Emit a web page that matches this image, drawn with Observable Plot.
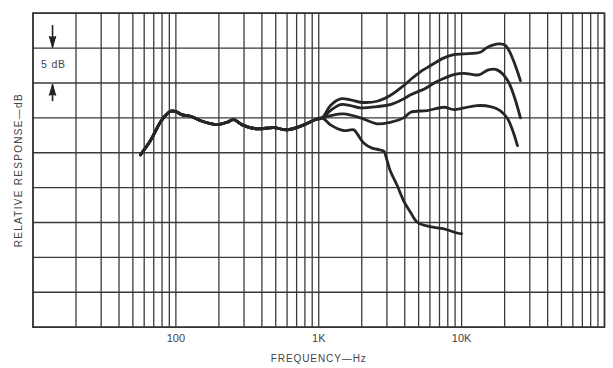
<!DOCTYPE html>
<html>
<head>
<meta charset="utf-8">
<script src="https://cdn.jsdelivr.net/npm/d3@7"></script>
<script src="https://cdn.jsdelivr.net/npm/@observablehq/plot@0.6"></script>
<style>
  html, body { margin: 0; padding: 0; background: #fff; }
  #chart svg { display: block; }
</style>
</head>
<body>
<div id="chart"></div>
<script>
// ---- data (frequency in Hz, response in dB) ----
const commonFreq = [56.5, 66.4, 78, 84.6, 91.6, 100, 111, 126.5, 148.6, 194, 228, 254, 291, 370, 484, 600, 786, 950, 1057];
const commonDb   = [-5.3, -3.25, -0.6, 0.33, 0.95, 0.9, 0.43, 0.23, -0.39, -0.96, -0.63, -0.24, -1.0, -1.58, -1.39, -1.72, -1.0, -0.24, 0];

const aFreq = [1208, 1419, 1667, 1960, 2560, 3160, 3920, 4400, 5140, 5740, 7530, 8810, 10400, 13500, 15100, 18200, 20300, 25800];
const aDb   = [1.76, 2.72, 2.58, 2.24, 2.38, 3.2, 4.6, 5.5, 6.6, 7.2, 8.6, 9.07, 9.17, 9.4, 10.1, 10.6, 10.36, 5.34];

const bFreq = [1208, 1419, 1667, 1960, 2560, 3160, 3920, 4400, 5140, 5440, 6780, 8810, 10400, 13200, 15400, 17700, 21000, 25800];
const bDb   = [1.05, 1.9, 1.76, 1.43, 1.62, 1.9, 2.72, 3.3, 3.91, 4.1, 5.24, 6.2, 6.39, 6.16, 6.88, 6.88, 5.34, 0];

const cFreq = [1208, 1497, 1960, 2560, 3160, 3920, 4400, 5740, 7530, 8810, 10400, 12800, 15900, 18600, 21000, 24600];
const cDb   = [0.33, 0.57, 0, -0.86, -0.63, 0, 0.8, 1.05, 1.52, 1.19, 1.43, 1.76, 1.62, 1.05, -0.14, -3.97];

const dFreq = [1208, 1497, 1760, 1860, 2065, 2340, 2700, 2860, 2960, 3160, 3540, 3920, 4380, 4900, 6000, 7530, 9300, 10000];
const dDb   = [-1.0, -1.82, -1.72, -2.3, -3.6, -4.3, -4.6, -4.8, -5.6, -7.55, -9.7, -11.85, -13.5, -14.96, -15.6, -15.9, -16.5, -16.6];

const tickValues = [100, 1000, 10000];
const tickLabels = ["100", "1K", "10K"];
const dbLines = [-30, -25, -20, -15, -10, -5, 0, 5, 10, 15];
const decades = [10, 100, 1000, 10000];
const gridFreqs = decades.flatMap(d => [1,2,3,4,5,6,7,8,9].map(k => d * k)).concat([100000]);

const xLabel = "FREQUENCY\u2014Hz";
const yLabel = "RELATIVE RESPONSE\u2014dB";
const scaleLabel = "5 dB";
const scaleFreq = 13.9;          // where the 5 dB marker sits
const scaleArrows = [
  {x: 13.7, y1: 13.3, y2: 10.1, rotate: 180},
  {x: 13.7, y1: 2.4, y2: 4.8, rotate: 0}
];

// ---- build table ----
function branch(name, fs, ds) {
  const pts = commonFreq.map((f, i) => ({curve: name, f, db: commonDb[i]}));
  return pts.concat(fs.map((f, i) => ({curve: name, f, db: ds[i]})));
}
const rows = [
  ...branch("A", aFreq, aDb),
  ...branch("B", bFreq, bDb),
  ...branch("C", cFreq, cDb),
  ...branch("D", dFreq, dDb)
];

const ink = "#262626";
const gridInk = "#3a3a3a";
const textInk = "#444";

const plot = Plot.plot({
  width: 613,
  height: 368,
  marginLeft: 32.5,
  marginRight: 9,
  marginTop: 12.7,
  marginBottom: 41.3,
  style: {fontFamily: "Liberation Sans, Arial, sans-serif", background: "#fff"},
  x: {type: "log", domain: [10, 100000]},
  y: {domain: [-30, 15]},
  marks: [
    Plot.ruleX(gridFreqs, {x: d => d, stroke: gridInk, strokeWidth: 1.3}),
    Plot.ruleY(dbLines, {y: d => d, stroke: gridInk, strokeWidth: 1.4}),
    Plot.frame({stroke: "#333", strokeWidth: 1.6}),
    Plot.line(rows, {x: "f", y: "db", z: "curve", stroke: ink, strokeWidth: 2.8, curve: "catmull-rom", strokeLinejoin: "round"}),
    Plot.axisX(tickValues, {tickSize: 0, tickPadding: 7, tickFormat: (d) => tickLabels[tickValues.indexOf(d)], fontSize: 11, fill: textInk, label: null}),
    Plot.axisY({ticks: [], label: null}),
    Plot.text([xLabel], {frameAnchor: "bottom", dy: 35, fontSize: 10, fill: textInk, text: d => d}),
    Plot.text([yLabel], {frameAnchor: "left", textAnchor: "middle", dx: -14, rotate: -90, fontSize: 10, fill: textInk, text: d => d}),
    Plot.text([scaleLabel], {x: () => scaleFreq, y: () => 7.6, fontSize: 10.5, fill: textInk, text: d => d}),
    Plot.link(scaleArrows, {x1: "x", x2: "x", y1: "y1", y2: "y2", stroke: "#222", strokeWidth: 1.6}),
    Plot.vector(scaleArrows, {x: "x", y: "y2", rotate: "rotate", anchor: "end", length: 11, r: 3.2, shape: "spike", stroke: "#222", fill: "#222", strokeWidth: 1})
  ]
});

plot.querySelectorAll("text").forEach(t => {
  const s = t.textContent;
  if (s === xLabel) t.setAttribute("letter-spacing", "0.9");
  if (s === yLabel) t.setAttribute("letter-spacing", "1.3");
  if (s === scaleLabel) t.setAttribute("letter-spacing", "0.8");
});

document.getElementById("chart").appendChild(plot);
</script>
</body>
</html>
